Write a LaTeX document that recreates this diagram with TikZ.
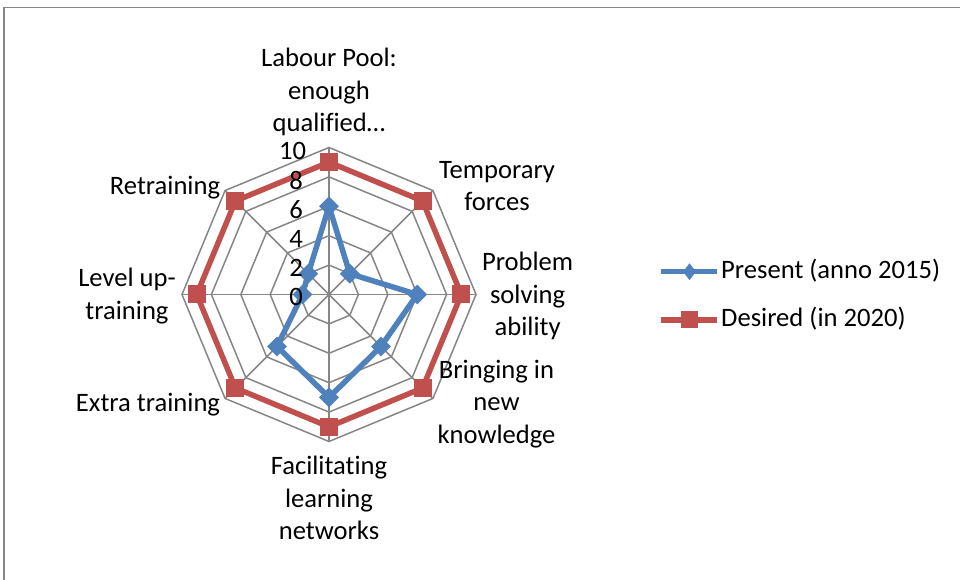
\documentclass[tikz,border=0pt]{standalone}
\usepackage{fontspec}
\setmainfont[Ligatures=NoCommon]{Carlito}
\usetikzlibrary{shapes.geometric}
\definecolor{gridgray}{HTML}{868686}
\definecolor{pblue}{HTML}{4F81BD}
\definecolor{dred}{HTML}{C0504D}
\begin{document}
\begin{tikzpicture}[x=1pt,y=1pt,
  font=\fontsize{26.6}{32.5}\selectfont,
  gridline/.style={draw=gridgray, line width=1.5},
  frameline/.style={draw=gridgray, line width=1.2},
  present/.style={draw=pblue, line width=5.5, line join=round},
  desired/.style={draw=dred, line width=5.5, line join=miter},
  pmark/.style={diamond, fill=pblue, inner sep=0, minimum width=20, minimum height=20},
  dmark/.style={rectangle, fill=dred, inner sep=0, minimum size=18},
  lpmark/.style={diamond, fill=pblue, inner sep=0, minimum width=13, minimum height=17},
  ldmark/.style={rectangle, fill=dred, inner sep=0, minimum width=17, minimum height=17},
  lbl/.style={align=center, anchor=base, inner sep=0},
  ticklbl/.style={anchor=center, inner sep=0},
  leglbl/.style={anchor=base west, inner sep=0}]
\useasboundingbox (0,0) rectangle (960,580);
\fill[white] (0,0) rectangle (960,580);
% frame
\draw[frameline] (4,-20) -- (4,572.5) -- (990,572.5);
% radar
\coordinate (O) at (329,285.5);
\begin{scope}[shift={(329,285.5)}]
  \foreach \v in {2,4,6,8,10} {
    \pgfmathsetmacro\rr{\v*14.7}
    \draw[gridline] (90:\rr) -- (45:\rr) -- (0:\rr) -- (-45:\rr) -- (-90:\rr) -- (-135:\rr) -- (-180:\rr) -- (-225:\rr) -- cycle;
  }
  \foreach \a in {90,45,0,-45,-90,-135,-180,-225}
    \draw[gridline] (0,0) -- (\a:147);
  % present data
  \foreach \v [count=\i] in {6,2,6,5,7,5,1.8,2} {
    \pgfmathsetmacro\ang{90-45*(\i-1)}
    \coordinate (p\i) at (\ang:{\v*14.7});
  }
  % desired data
  \foreach \v [count=\i] in {9,9,9,9,9,9,9,9} {
    \pgfmathsetmacro\ang{90-45*(\i-1)}
    \coordinate (d\i) at (\ang:{\v*14.7});
  }
\end{scope}
\draw[present] (p1) -- (p2) -- (p3) -- (p4) -- (p5) -- (p6) -- (p7) -- (p8) -- cycle;
\foreach \i in {1,...,8} \node[pmark] (pm\i) at (p\i) {};
\draw[desired] (d1) -- (d2) -- (d3) -- (d4) -- (d5) -- (d6) -- (d7) -- (d8) -- cycle;
\foreach \i in {1,...,8} \node[dmark] (dm\i) at (d\i) {};
% tick labels
\node[ticklbl] (t10) at (292.5,429.5) {10};
\node[ticklbl] (t8) at (296,399) {8};
\node[ticklbl] (t6) at (296,370) {6};
\node[ticklbl] (t4) at (296,341.2) {4};
\node[ticklbl] (t2) at (296,312) {2};
\node[ticklbl] (t0) at (296,283.3) {0};
% category labels (base = baseline of last line)
\node[lbl] (c1) at (329,448.3) {Labour Pool:\\enough\\qualified…};
\node[lbl] (c2) at (497,369.2) {Temporary\\forces};
\node[lbl] (c3) at (527.6,244.3) {Problem\\solving\\ability};
\node[lbl] (c4) at (496.5,136.7) {Bringing in\\new\\knowledge};
\node[lbl] (c5) at (329,40) {Facilitating\\learning\\networks};
\node[lbl] (c6) at (148,168.3) {Extra training};
\node[lbl] (c7) at (127,260.8) {Level up-\\training};
\node[lbl] (c8) at (165,385) {Retraining};
% legend
\coordinate (lpa) at (661,308.3);
\coordinate (lpb) at (717,308.3);
\draw[present] (lpa) -- (lpb);
\node[lpmark] (lpm) at (689.5,308.3) {};
\node[leglbl] (legp) at (721,301.7) {Present (anno 2015)};
\coordinate (lda) at (661,260);
\coordinate (ldb) at (717,260);
\draw[desired] (lda) -- (ldb);
\node[ldmark] (ldm) at (689.5,260) {};
\node[leglbl] (legd) at (721,253.3) {Desired (in 2020)};
\end{tikzpicture}
\end{document}
